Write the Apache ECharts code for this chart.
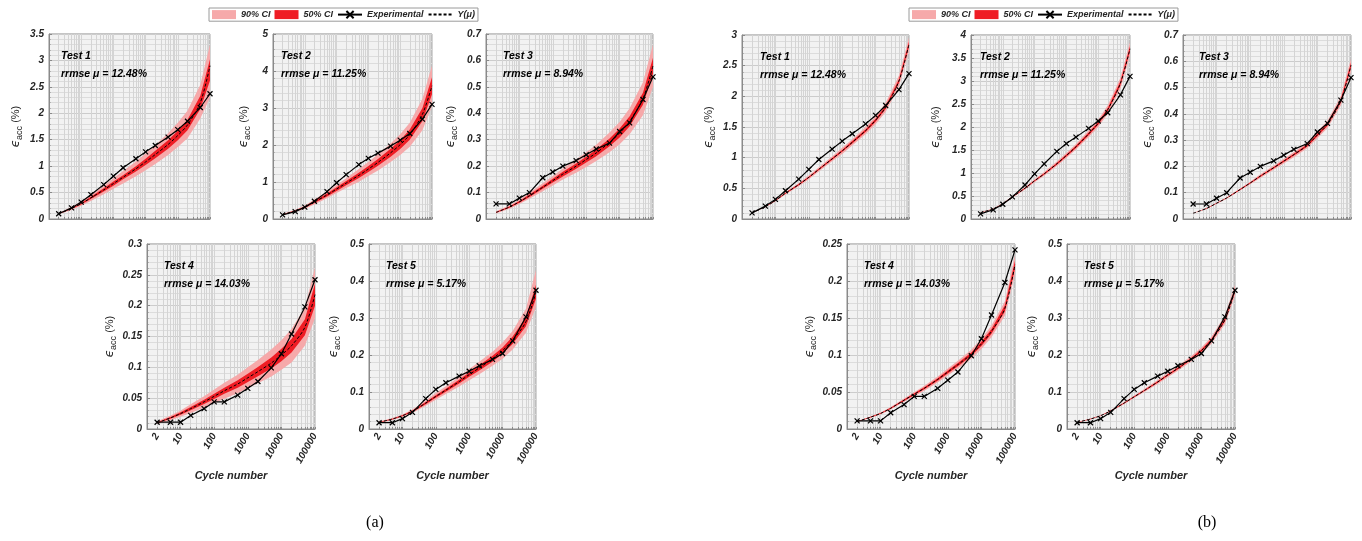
<!DOCTYPE html>
<html>
<head>
<meta charset="utf-8">
<script src="https://cdn.jsdelivr.net/npm/echarts@6/dist/echarts.min.js"></script>
<style>
  html, body { margin: 0; padding: 0; background: #fff; }
  #chart { width: 1362px; height: 541px; }
</style>
</head>
<body>
<div id="chart"></div>
<script>
// cycle numbers shared by all subplots
const cycles = [2, 5, 10, 20, 50, 100, 200, 500, 1000, 2000, 5000, 10000, 20000, 50000, 100000];
const xTickLabels = [2, 10, 100, 1000, 10000, 100000];
const testNames = ['Test 1', 'Test 2', 'Test 3', 'Test 4', 'Test 5'];
const rrmseLabels = ['rrmse μ = 12.48%', 'rrmse μ = 11.25%', 'rrmse μ = 8.94%', 'rrmse μ = 14.03%', 'rrmse μ = 5.17%'];
const panelLabels = ['(a)', '(b)'];

// experimental accumulated strain (%)
const exp1 = [0.10, 0.21, 0.32, 0.46, 0.65, 0.81, 0.97, 1.14, 1.27, 1.39, 1.55, 1.69, 1.85, 2.11, 2.37];
const exp2 = [0.11, 0.20, 0.32, 0.48, 0.74, 0.98, 1.20, 1.47, 1.64, 1.78, 1.97, 2.13, 2.31, 2.70, 3.10];
const exp3 = [0.057, 0.057, 0.079, 0.10, 0.156, 0.178, 0.20, 0.221, 0.243, 0.265, 0.287, 0.331, 0.364, 0.452, 0.538];
const exp4 = [0.011, 0.011, 0.011, 0.022, 0.033, 0.044, 0.044, 0.055, 0.066, 0.077, 0.099, 0.122, 0.154, 0.198, 0.242];
const exp5 = [0.017, 0.017, 0.028, 0.045, 0.082, 0.107, 0.125, 0.143, 0.156, 0.171, 0.188, 0.204, 0.238, 0.303, 0.375];

// panel (a): mean prediction and credible bands
const a1Mean = [0.10, 0.20, 0.29, 0.40, 0.55, 0.67, 0.79, 0.95, 1.08, 1.22, 1.41, 1.58, 1.78, 2.20, 2.90];
const a1Lo90 = [0.09, 0.17, 0.25, 0.34, 0.47, 0.57, 0.67, 0.81, 0.92, 1.04, 1.21, 1.36, 1.53, 1.90, 2.30];
const a1Hi90 = [0.11, 0.23, 0.33, 0.46, 0.63, 0.77, 0.91, 1.09, 1.24, 1.40, 1.62, 1.82, 2.05, 2.54, 3.30];
const a1Lo50 = [0.095, 0.19, 0.275, 0.38, 0.52, 0.63, 0.75, 0.90, 1.02, 1.15, 1.33, 1.49, 1.68, 2.08, 2.62];
const a1Hi50 = [0.105, 0.21, 0.305, 0.42, 0.58, 0.71, 0.83, 1.00, 1.14, 1.29, 1.49, 1.67, 1.88, 2.33, 3.02];

const a2Mean = [0.12, 0.22, 0.32, 0.46, 0.65, 0.81, 0.97, 1.18, 1.35, 1.53, 1.79, 2.01, 2.28, 2.83, 3.60];
const a2Lo90 = [0.105, 0.19, 0.275, 0.395, 0.56, 0.70, 0.835, 1.01, 1.16, 1.31, 1.54, 1.73, 1.95, 2.40, 3.05];
const a2Hi90 = [0.135, 0.25, 0.365, 0.525, 0.74, 0.92, 1.10, 1.35, 1.54, 1.75, 2.04, 2.29, 2.60, 3.25, 4.15];
const a2Lo50 = [0.113, 0.207, 0.30, 0.43, 0.61, 0.76, 0.91, 1.11, 1.27, 1.44, 1.68, 1.89, 2.14, 2.65, 3.37];
const a2Hi50 = [0.127, 0.233, 0.34, 0.49, 0.69, 0.86, 1.03, 1.25, 1.43, 1.62, 1.90, 2.13, 2.42, 3.00, 3.83];

const a3Mean = [0.025, 0.045, 0.065, 0.088, 0.12, 0.145, 0.17, 0.20, 0.225, 0.25, 0.29, 0.325, 0.37, 0.455, 0.58];
const a3Lo90 = [0.021, 0.039, 0.057, 0.077, 0.105, 0.127, 0.149, 0.175, 0.197, 0.219, 0.253, 0.283, 0.321, 0.393, 0.50];
const a3Hi90 = [0.029, 0.051, 0.073, 0.099, 0.135, 0.163, 0.191, 0.225, 0.253, 0.281, 0.327, 0.367, 0.419, 0.517, 0.66];
const a3Lo50 = [0.0235, 0.0425, 0.0615, 0.0835, 0.114, 0.138, 0.161, 0.19, 0.214, 0.237, 0.275, 0.308, 0.351, 0.432, 0.55];
const a3Hi50 = [0.0265, 0.0475, 0.0685, 0.0925, 0.126, 0.152, 0.179, 0.21, 0.236, 0.263, 0.305, 0.342, 0.389, 0.478, 0.61];

const a4Mean = [0.010, 0.018, 0.025, 0.033, 0.044, 0.053, 0.062, 0.073, 0.083, 0.093, 0.107, 0.12, 0.135, 0.165, 0.218];
const a4Lo90 = [0.008, 0.014, 0.020, 0.026, 0.035, 0.042, 0.049, 0.058, 0.066, 0.074, 0.085, 0.096, 0.108, 0.135, 0.18];
const a4Hi90 = [0.012, 0.022, 0.030, 0.040, 0.053, 0.064, 0.075, 0.088, 0.10, 0.112, 0.129, 0.144, 0.162, 0.197, 0.262];
const a4Lo50 = [0.0092, 0.0166, 0.023, 0.0304, 0.0405, 0.0488, 0.057, 0.067, 0.0764, 0.0856, 0.098, 0.11, 0.124, 0.152, 0.20];
const a4Hi50 = [0.0108, 0.0194, 0.027, 0.0356, 0.0475, 0.0572, 0.067, 0.079, 0.0896, 0.1004, 0.116, 0.13, 0.146, 0.178, 0.236];

const a5Mean = [0.018, 0.027, 0.036, 0.048, 0.07, 0.088, 0.105, 0.128, 0.147, 0.165, 0.19, 0.212, 0.24, 0.29, 0.37];
const a5Lo90 = [0.016, 0.0245, 0.0325, 0.0435, 0.063, 0.079, 0.0945, 0.115, 0.132, 0.148, 0.171, 0.19, 0.215, 0.26, 0.33];
const a5Hi90 = [0.020, 0.0295, 0.0395, 0.0525, 0.077, 0.097, 0.1155, 0.141, 0.162, 0.182, 0.209, 0.234, 0.265, 0.325, 0.43];
const a5Lo50 = [0.0173, 0.026, 0.0345, 0.046, 0.067, 0.0845, 0.101, 0.123, 0.141, 0.158, 0.182, 0.204, 0.23, 0.278, 0.352];
const a5Hi50 = [0.0187, 0.028, 0.0375, 0.05, 0.073, 0.0915, 0.109, 0.133, 0.153, 0.172, 0.198, 0.22, 0.25, 0.302, 0.39];

// panel (b): mean prediction and (narrow) credible bands
const b1Mean = [0.10, 0.20, 0.30, 0.42, 0.56, 0.68, 0.81, 0.98, 1.11, 1.25, 1.44, 1.61, 1.82, 2.25, 2.85];
const b1Lo90 = [0.096, 0.192, 0.288, 0.40, 0.535, 0.65, 0.775, 0.94, 1.06, 1.20, 1.38, 1.545, 1.745, 2.16, 2.74];
const b1Hi90 = [0.104, 0.208, 0.312, 0.44, 0.585, 0.71, 0.845, 1.02, 1.16, 1.30, 1.50, 1.675, 1.895, 2.34, 2.96];
const b1Lo50 = [0.098, 0.197, 0.295, 0.413, 0.55, 0.67, 0.80, 0.965, 1.095, 1.23, 1.42, 1.585, 1.795, 2.22, 2.81];
const b1Hi50 = [0.102, 0.203, 0.305, 0.427, 0.57, 0.69, 0.82, 0.995, 1.125, 1.27, 1.46, 1.635, 1.845, 2.28, 2.89];

const b2Mean = [0.14, 0.22, 0.33, 0.48, 0.67, 0.83, 0.98, 1.20, 1.38, 1.57, 1.85, 2.08, 2.38, 2.95, 3.70];
const b2Lo90 = [0.134, 0.211, 0.317, 0.46, 0.643, 0.797, 0.94, 1.15, 1.325, 1.51, 1.775, 2.0, 2.285, 2.83, 3.55];
const b2Hi90 = [0.146, 0.229, 0.343, 0.50, 0.697, 0.863, 1.02, 1.25, 1.435, 1.63, 1.925, 2.16, 2.475, 3.07, 3.85];
const b2Lo50 = [0.138, 0.217, 0.325, 0.473, 0.66, 0.818, 0.965, 1.182, 1.36, 1.546, 1.822, 2.05, 2.345, 2.905, 3.645];
const b2Hi50 = [0.142, 0.223, 0.335, 0.487, 0.68, 0.842, 0.995, 1.218, 1.40, 1.594, 1.878, 2.11, 2.415, 2.995, 3.755];

const b3Mean = [0.022, 0.04, 0.06, 0.08, 0.112, 0.137, 0.163, 0.195, 0.22, 0.245, 0.28, 0.32, 0.36, 0.45, 0.585];
const b3Lo90 = [0.021, 0.038, 0.058, 0.077, 0.108, 0.132, 0.156, 0.187, 0.211, 0.235, 0.269, 0.307, 0.346, 0.432, 0.56];
const b3Hi90 = [0.023, 0.042, 0.062, 0.083, 0.116, 0.142, 0.17, 0.203, 0.229, 0.255, 0.291, 0.333, 0.374, 0.468, 0.61];
const b3Lo50 = [0.0217, 0.0394, 0.0591, 0.0788, 0.1103, 0.135, 0.1606, 0.192, 0.2167, 0.2413, 0.2758, 0.3152, 0.3546, 0.4433, 0.576];
const b3Hi50 = [0.0223, 0.0406, 0.0609, 0.0812, 0.1137, 0.139, 0.1654, 0.198, 0.2233, 0.2487, 0.2842, 0.3248, 0.3654, 0.4567, 0.594];

const b4Mean = [0.010, 0.016, 0.021, 0.028, 0.039, 0.047, 0.055, 0.067, 0.077, 0.087, 0.101, 0.115, 0.132, 0.163, 0.222];
const b4Lo90 = [0.0094, 0.015, 0.0197, 0.0263, 0.0367, 0.0442, 0.0517, 0.063, 0.0724, 0.0818, 0.0949, 0.1081, 0.1241, 0.1532, 0.2087];
const b4Hi90 = [0.0106, 0.017, 0.0223, 0.0297, 0.0413, 0.0498, 0.0583, 0.071, 0.0816, 0.0922, 0.1071, 0.1219, 0.1399, 0.1728, 0.2353];
const b4Lo50 = [0.0098, 0.0156, 0.0205, 0.0273, 0.038, 0.0458, 0.0536, 0.0653, 0.0751, 0.0848, 0.0985, 0.1121, 0.1287, 0.1589, 0.2165];
const b4Hi50 = [0.0102, 0.0164, 0.0215, 0.0287, 0.04, 0.0482, 0.0564, 0.0687, 0.0789, 0.0892, 0.1035, 0.1179, 0.1353, 0.1671, 0.2275];

const b5Mean = [0.018, 0.027, 0.036, 0.049, 0.07, 0.087, 0.104, 0.127, 0.146, 0.164, 0.19, 0.212, 0.24, 0.295, 0.375];
const b5Lo90 = [0.0173, 0.0259, 0.0346, 0.047, 0.0672, 0.0835, 0.0998, 0.1219, 0.1402, 0.1574, 0.1824, 0.2035, 0.2304, 0.2832, 0.36];
const b5Hi90 = [0.0187, 0.0281, 0.0374, 0.051, 0.0728, 0.0905, 0.1082, 0.1321, 0.1518, 0.1706, 0.1976, 0.2205, 0.2496, 0.3068, 0.39];
const b5Lo50 = [0.0177, 0.0266, 0.0355, 0.0483, 0.069, 0.0857, 0.1024, 0.1251, 0.1438, 0.1615, 0.1872, 0.2088, 0.2364, 0.2906, 0.3694];
const b5Hi50 = [0.0183, 0.0274, 0.0365, 0.0497, 0.071, 0.0883, 0.1056, 0.1289, 0.1482, 0.1665, 0.1928, 0.2152, 0.2436, 0.2994, 0.3806];

// y axis ranges per subplot
const yMaxA = [3.5, 5, 0.7, 0.3, 0.5];
const yStepA = [0.5, 1, 0.1, 0.05, 0.1];
const yMaxB = [3, 4, 0.7, 0.25, 0.5];
const yStepB = [0.5, 0.5, 0.1, 0.05, 0.1];

const expAll = [exp1, exp2, exp3, exp4, exp5];
const panels = [
  { mean: [a1Mean, a2Mean, a3Mean, a4Mean, a5Mean], lo90: [a1Lo90, a2Lo90, a3Lo90, a4Lo90, a5Lo90],
    hi90: [a1Hi90, a2Hi90, a3Hi90, a4Hi90, a5Hi90], lo50: [a1Lo50, a2Lo50, a3Lo50, a4Lo50, a5Lo50],
    hi50: [a1Hi50, a2Hi50, a3Hi50, a4Hi50, a5Hi50], yMax: yMaxA, yStep: yStepA },
  { mean: [b1Mean, b2Mean, b3Mean, b4Mean, b5Mean], lo90: [b1Lo90, b2Lo90, b3Lo90, b4Lo90, b5Lo90],
    hi90: [b1Hi90, b2Hi90, b3Hi90, b4Hi90, b5Hi90], lo50: [b1Lo50, b2Lo50, b3Lo50, b4Lo50, b5Lo50],
    hi50: [b1Hi50, b2Hi50, b3Hi50, b4Hi50, b5Hi50], yMax: yMaxB, yStep: yStepB }
];

// layout (pixels): [left, top, width, height]
const gridRects = [
  [49, 34, 161, 185], [273, 34, 159, 185], [486, 34, 167, 185], [147, 244, 168, 185], [369, 244, 167, 185],
  [742, 35, 167, 184], [971, 35, 159, 184], [1183, 35, 168, 184], [847, 244, 168, 185], [1067, 244, 168, 185]
];
const nameGaps = [24, 20, 26, 28, 26, 24, 26, 26, 28, 26];
const textDx = [12, 8, 17, 17, 17, 18, 9, 16, 17, 17];
const legendLeft = [209, 909];
const panelLabelX = [375, 1207];

const pink = '#f6a9aa';
const red = '#ef1c24';
const axisColor = '#8a8a8a';
const textColor = '#262626';
const fontFam = 'Arial, "Liberation Sans", sans-serif';

// log-scale minor grid positions
const minorX = [];
[1, 10, 100, 1000, 10000].forEach(d => { for (let k = 1; k < 10; k++) minorX.push(k * d); });
minorX.push(100000);

function pairs(vals) { return cycles.map((c, i) => [c, vals[i]]); }

// band drawn as one filled polygon through the axis scales
function bandSeries(idx, name, lo, hi, color) {
  return {
    type: 'custom', name: name, xAxisIndex: idx, yAxisIndex: idx, silent: true, z: 2,
    itemStyle: { color: color },
    data: cycles.map((c, i) => [c, lo[i], hi[i]]),
    encode: { x: 0, y: [1, 2] },
    renderItem: function (params, api) {
      if (params.dataIndex !== 0) return null;
      const up = cycles.map((c, i) => api.coord([c, hi[i]]));
      const dn = cycles.map((c, i) => api.coord([c, lo[i]])).reverse();
      return { type: 'polygon', shape: { points: up.concat(dn) }, style: { fill: color } };
    }
  };
}

const grids = [], xAxes = [], yAxes = [], series = [], graphics = [];

panels.forEach((p, pi) => {
  for (let t = 0; t < 5; t++) {
    const idx = pi * 5 + t;
    const r = gridRects[idx];
    const bottomRow = t >= 3;
    grids.push({ left: r[0], top: r[1], width: r[2], height: r[3], show: true,
      backgroundColor: '#f2f2f2', borderColor: axisColor, borderWidth: 1,
      containLabel: false, outerBoundsMode: 'none' });
    xAxes.push({
      gridIndex: idx, type: 'log', logBase: 10, min: 1, max: 100000,
      axisLine: { show: true, onZero: false, lineStyle: { color: axisColor } },
      axisTick: { show: true, inside: true, length: 2, customValues: minorX, lineStyle: { color: axisColor } },
      axisLabel: { show: bottomRow, customValues: xTickLabels, rotate: 60, margin: 5,
        formatter: v => String(v), fontSize: 10, fontWeight: 'bold', fontStyle: 'italic',
        fontFamily: fontFam, color: textColor },
      splitLine: { show: true, lineStyle: { color: '#d4d4d4', width: 1 } },
      name: bottomRow ? 'Cycle number' : '', nameLocation: 'middle', nameGap: 41,
      nameTextStyle: { fontSize: 11, fontWeight: 'bold', fontStyle: 'italic', fontFamily: fontFam, color: textColor }
    });
    yAxes.push({
      gridIndex: idx, type: 'value', min: 0, max: p.yMax[t], interval: p.yStep[t],
      axisLine: { show: true, lineStyle: { color: axisColor } },
      axisTick: { show: true, inside: true, length: 3, lineStyle: { color: axisColor } },
      axisLabel: { fontSize: 10, fontWeight: 'bold', fontStyle: 'italic', fontFamily: fontFam, color: textColor, margin: 5 },
      splitLine: { show: true, lineStyle: { color: '#cccccc' } },
      minorTick: { show: true, splitNumber: 5, length: 1.5, lineStyle: { color: axisColor } },
      minorSplitLine: { show: true, lineStyle: { color: '#dcdcdc' } },
      name: '{e|ϵ}{s|acc}{p| (%)}', nameLocation: 'middle', nameRotate: 90, nameGap: nameGaps[idx],
      nameTextStyle: { color: textColor, rich: {
        e: { fontSize: 12, fontStyle: 'italic', fontFamily: 'DejaVu Sans', color: textColor, lineHeight: 18, verticalAlign: 'middle' },
        s: { fontSize: 9, fontFamily: fontFam, color: textColor, lineHeight: 18, verticalAlign: 'bottom', padding: [0, 0, 1, 0] },
        p: { fontSize: 11, fontFamily: fontFam, color: textColor, lineHeight: 18, verticalAlign: 'middle' }
      } }
    });

    series.push(
      bandSeries(idx, '90% CI', p.lo90[t], p.hi90[t], pink),
      bandSeries(idx, '50% CI', p.lo50[t], p.hi50[t], red),
      { name: 'Y(μ)', type: 'line', xAxisIndex: idx, yAxisIndex: idx, silent: true, symbol: 'none', smooth: 0.3,
        data: pairs(p.mean[t]), itemStyle: { color: '#000' },
        lineStyle: { color: '#000', width: 1, type: [3, 2] }, z: 3 },
      { name: 'Experimental', type: 'line', xAxisIndex: idx, yAxisIndex: idx, silent: true,
        data: pairs(expAll[t]), symbol: 'path://M0,0L10,10M10,0L0,10', symbolSize: 5,
        itemStyle: { color: '#000', borderColor: '#000', borderWidth: 1.2 },
        lineStyle: { color: '#000', width: 1.2 }, z: 4 }
    );

    const tf = 'italic bold 10.5px ' + fontFam;
    graphics.push(
      { type: 'text', x: r[0] + textDx[idx], y: r[1] + 22, silent: true, z: 10,
        style: { text: testNames[t], font: tf, fill: '#000', verticalAlign: 'middle' } },
      { type: 'text', x: r[0] + textDx[idx], y: r[1] + 40, silent: true, z: 10,
        style: { text: rrmseLabels[t], font: tf, fill: '#000', verticalAlign: 'middle' } }
    );
  }
  graphics.push({ type: 'text', x: panelLabelX[pi], y: 523, silent: true,
    style: { text: panelLabels[pi], font: '16px "Liberation Serif", "Times New Roman", serif', fill: '#000',
      align: 'center', verticalAlign: 'middle' } });
});

const legends = legendLeft.map(l => ({
  left: l, top: 8, orient: 'horizontal', selectedMode: false,
  backgroundColor: '#fff', borderColor: '#9a9a9a', borderWidth: 1, padding: [2, 3],
  itemWidth: 24, itemHeight: 9, itemGap: 4,
  textStyle: { fontSize: 9, fontWeight: 'bold', fontStyle: 'italic', fontFamily: fontFam, color: textColor },
  data: [
    { name: '90% CI', icon: 'rect' },
    { name: '50% CI', icon: 'rect' },
    { name: 'Experimental' },
    { name: 'Y(μ)', itemStyle: { opacity: 0 } }
  ]
}));

const chart = echarts.init(document.getElementById('chart'));
chart.setOption({
  animation: false,
  backgroundColor: '#fff',
  grid: grids,
  xAxis: xAxes,
  yAxis: yAxes,
  legend: legends,
  series: series,
  graphic: { elements: graphics }
});
</script>
</body>
</html>
